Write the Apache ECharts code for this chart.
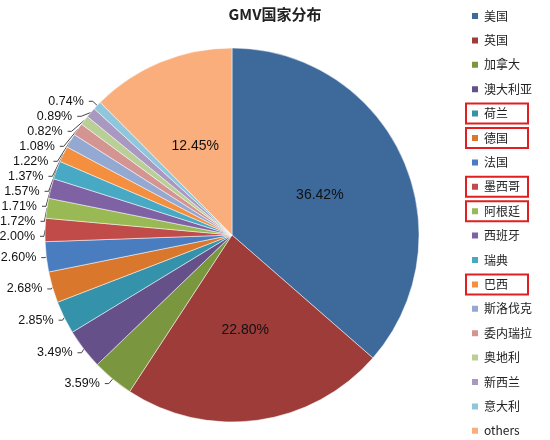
<!DOCTYPE html>
<html><head><meta charset="utf-8">
<script src="https://cdn.jsdelivr.net/npm/echarts@6/dist/echarts.min.js"></script>
<style>html,body{margin:0;padding:0;background:#fff}#c{width:550px;height:440px}</style>
</head><body><div id="c"></div>
<script>
var countries = ['美国','英国','加拿大','澳大利亚','荷兰','德国','法国','墨西哥','阿根廷','西班牙','瑞典','巴西','斯洛伐克','委内瑞拉','奥地利','新西兰','意大利','others'];
var shares = [36.42,22.80,3.59,3.49,2.85,2.68,2.60,2.00,1.72,1.71,1.57,1.37,1.22,1.08,0.82,0.89,0.74,12.45];
var colors = ['#3d699b','#9d3c39','#7a963f','#65508a','#3592ab','#d9772c',
              '#4a7dbf','#c04b48','#98b954','#7f62a3','#48a9c5','#f38f3f',
              '#93a9d2','#d49492','#b9cf97','#a998c0','#8fc6db','#f9ae7c'];
var insideSet = {'美国':1,'英国':1,'others':1};
var highlighted = [4,5,7,8,11];

var chart = echarts.init(document.getElementById('c'));
var data = countries.map(function(n,i){
  var d = {name:n, value:shares[i]};
  if (insideSet[n]) d.label = {position:'inside', fontSize:14};
  return d;
});
var legendTop = 10, legendGap = 24.4;
var boxes = highlighted.map(function(i){
  return {type:'rect', shape:{x:466, y:legendTop + i*legendGap - 4, width:62, height:20},
    style:{fill:'none', stroke:'#e02020', lineWidth:2}};
});
chart.setOption({
  color: colors,
  title: {text:'GMV国家分布', left:'center', top:2, textStyle:{fontSize:15, fontWeight:'bold', color:'#222', fontFamily:'Noto Sans CJK SC'}},
  legend: {type:'plain', orient:'vertical', left:470, top:legendTop, padding:0, itemWidth:8, itemHeight:8, itemGap:12.4,
    icon:'rect', textStyle:{fontSize:12, color:'#222', fontFamily:'Noto Sans CJK SC'}, data:countries},
  graphic: boxes,
  series: [{
    type:'pie', center:[232,235], radius:[0,187], startAngle:90, clockwise:true,
    data:data,
    itemStyle:{borderColor:'#fff', borderWidth:0.5},
    label:{formatter:function(p){return p.value.toFixed(2)+'%';}, fontSize:12.5, color:'#111',
      fontFamily:'Liberation Sans', overflow:'none', alignTo:'none'},
    labelLine:{length:6, length2:4, lineStyle:{color:'#444', width:1}},
    emphasis:{disabled:true}
  }]
});
</script></body></html>
